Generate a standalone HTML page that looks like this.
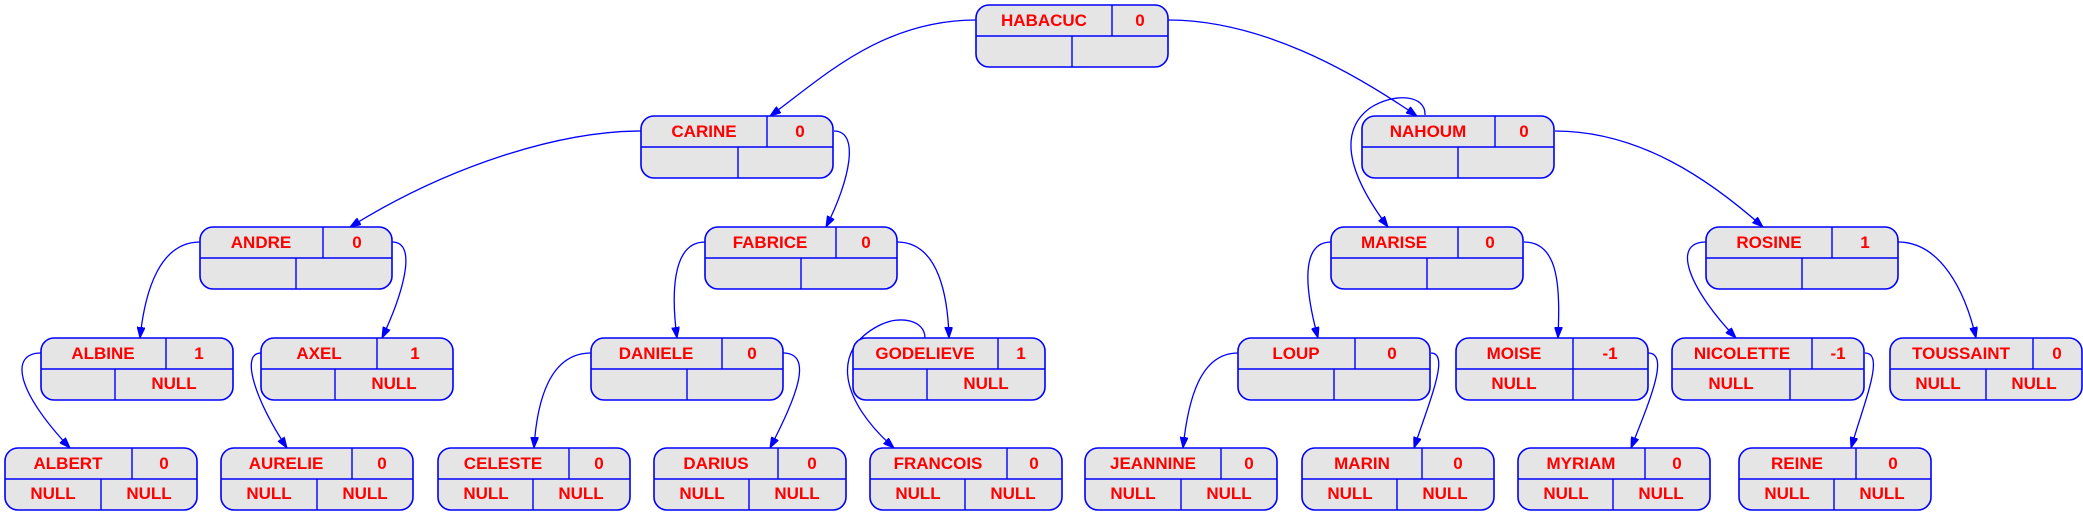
<!DOCTYPE html>
<html><head><meta charset="utf-8"><style>
html,body{margin:0;padding:0;background:#fff;}
svg{display:block;}
text{font-family:"Liberation Sans",Arial,sans-serif;font-weight:bold;font-size:17px;fill:#ff0000;text-anchor:middle;}
.n rect{fill:#e5e5e5;stroke:#0000ff;stroke-width:1.6;}
.n line{stroke:#0000ff;stroke-width:1.4;}
.e path{fill:none;stroke:#0000ff;stroke-width:1.3;}
</style></head><body>
<svg width="2083" height="516" viewBox="0 0 2083 516" xmlns="http://www.w3.org/2000/svg">
<defs><marker id="a" markerUnits="userSpaceOnUse" markerWidth="12" markerHeight="8" refX="11" refY="4" orient="auto"><path d="M0,0 L11,4 L0,8 z" fill="#0000ff" stroke="#0000ff"/></marker></defs>
<g class="e">
<path marker-end="url(#a)" d="M976,20 C880,20 820,80 770,116"/>
<path marker-end="url(#a)" d="M1168,20 C1260,20 1350,70 1417,116"/>
<path marker-end="url(#a)" d="M1425,115 C1426,95 1395,92 1370,108 C1340,130 1345,170 1388,227"/>
<path marker-end="url(#a)" d="M641,131 C560,131 450,165 350,227"/>
<path marker-end="url(#a)" d="M834,131 C860,131 850,180 826,227"/>
<path marker-end="url(#a)" d="M200,242 C160,242 145,290 140,338"/>
<path marker-end="url(#a)" d="M392,242 C420,242 400,300 382,338"/>
<path marker-end="url(#a)" d="M705,242 C670,242 672,300 677,338"/>
<path marker-end="url(#a)" d="M897,242 C940,242 948,300 949,338"/>
<path marker-end="url(#a)" d="M925,338 C925,320 900,315 880,325 C830,350 840,400 894,448"/>
<path marker-end="url(#a)" d="M41,353 C10,353 15,390 70,448"/>
<path marker-end="url(#a)" d="M261,353 C240,353 255,400 287,448"/>
<path marker-end="url(#a)" d="M591,353 C550,353 537,400 534,448"/>
<path marker-end="url(#a)" d="M783,353 C815,353 795,400 770,448"/>
<path marker-end="url(#a)" d="M1555,131 C1640,131 1710,180 1763,227"/>
<path marker-end="url(#a)" d="M1331,242 C1300,242 1305,290 1318,338"/>
<path marker-end="url(#a)" d="M1524,242 C1560,242 1560,290 1558,338"/>
<path marker-end="url(#a)" d="M1706,242 C1670,242 1690,290 1736,338"/>
<path marker-end="url(#a)" d="M1898,242 C1940,242 1965,290 1976,338"/>
<path marker-end="url(#a)" d="M1238,353 C1200,353 1188,400 1183,448"/>
<path marker-end="url(#a)" d="M1431,353 C1450,353 1430,400 1414,448"/>
<path marker-end="url(#a)" d="M1648,353 C1670,353 1650,400 1631,448"/>
<path marker-end="url(#a)" d="M1865,353 C1885,353 1865,400 1851,448"/>
</g>
<g class="n">
<g transform="translate(976,5)"><rect width="192" height="62" rx="13"/><line x1="0" y1="31" x2="192" y2="31"/><line x1="136" y1="0" x2="136" y2="31"/><line x1="96" y1="31" x2="96" y2="62"/><text x="68" y="21">HABACUC</text><text x="164" y="21">0</text></g>
<g transform="translate(641,116)"><rect width="192" height="62" rx="13"/><line x1="0" y1="31" x2="192" y2="31"/><line x1="126" y1="0" x2="126" y2="31"/><line x1="97" y1="31" x2="97" y2="62"/><text x="63" y="21">CARINE</text><text x="159" y="21">0</text></g>
<g transform="translate(1362,116)"><rect width="192" height="62" rx="13"/><line x1="0" y1="31" x2="192" y2="31"/><line x1="133" y1="0" x2="133" y2="31"/><line x1="96" y1="31" x2="96" y2="62"/><text x="66" y="21">NAHOUM</text><text x="162" y="21">0</text></g>
<g transform="translate(200,227)"><rect width="192" height="62" rx="13"/><line x1="0" y1="31" x2="192" y2="31"/><line x1="123" y1="0" x2="123" y2="31"/><line x1="96" y1="31" x2="96" y2="62"/><text x="61" y="21">ANDRE</text><text x="157" y="21">0</text></g>
<g transform="translate(705,227)"><rect width="192" height="62" rx="13"/><line x1="0" y1="31" x2="192" y2="31"/><line x1="131" y1="0" x2="131" y2="31"/><line x1="96" y1="31" x2="96" y2="62"/><text x="65" y="21">FABRICE</text><text x="161" y="21">0</text></g>
<g transform="translate(1331,227)"><rect width="192" height="62" rx="13"/><line x1="0" y1="31" x2="192" y2="31"/><line x1="127" y1="0" x2="127" y2="31"/><line x1="96" y1="31" x2="96" y2="62"/><text x="63" y="21">MARISE</text><text x="159" y="21">0</text></g>
<g transform="translate(1706,227)"><rect width="192" height="62" rx="13"/><line x1="0" y1="31" x2="192" y2="31"/><line x1="126" y1="0" x2="126" y2="31"/><line x1="96" y1="31" x2="96" y2="62"/><text x="63" y="21">ROSINE</text><text x="159" y="21">1</text></g>
<g transform="translate(41,338)"><rect width="192" height="62" rx="13"/><line x1="0" y1="31" x2="192" y2="31"/><line x1="125" y1="0" x2="125" y2="31"/><line x1="74" y1="31" x2="74" y2="62"/><text x="62" y="21">ALBINE</text><text x="158" y="21">1</text><text x="133" y="51">NULL</text></g>
<g transform="translate(261,338)"><rect width="192" height="62" rx="13"/><line x1="0" y1="31" x2="192" y2="31"/><line x1="116" y1="0" x2="116" y2="31"/><line x1="74" y1="31" x2="74" y2="62"/><text x="58" y="21">AXEL</text><text x="154" y="21">1</text><text x="133" y="51">NULL</text></g>
<g transform="translate(591,338)"><rect width="192" height="62" rx="13"/><line x1="0" y1="31" x2="192" y2="31"/><line x1="131" y1="0" x2="131" y2="31"/><line x1="96" y1="31" x2="96" y2="62"/><text x="65" y="21">DANIELE</text><text x="161" y="21">0</text></g>
<g transform="translate(853,338)"><rect width="192" height="62" rx="13"/><line x1="0" y1="31" x2="192" y2="31"/><line x1="145" y1="0" x2="145" y2="31"/><line x1="74" y1="31" x2="74" y2="62"/><text x="72" y="21">GODELIEVE</text><text x="168" y="21">1</text><text x="133" y="51">NULL</text></g>
<g transform="translate(1238,338)"><rect width="192" height="62" rx="13"/><line x1="0" y1="31" x2="192" y2="31"/><line x1="117" y1="0" x2="117" y2="31"/><line x1="96" y1="31" x2="96" y2="62"/><text x="58" y="21">LOUP</text><text x="154" y="21">0</text></g>
<g transform="translate(1456,338)"><rect width="192" height="62" rx="13"/><line x1="0" y1="31" x2="192" y2="31"/><line x1="117" y1="0" x2="117" y2="31"/><line x1="117" y1="31" x2="117" y2="62"/><text x="58" y="21">MOISE</text><text x="154" y="21">-1</text><text x="58" y="51">NULL</text></g>
<g transform="translate(1672,338)"><rect width="192" height="62" rx="13"/><line x1="0" y1="31" x2="192" y2="31"/><line x1="140" y1="0" x2="140" y2="31"/><line x1="118" y1="31" x2="118" y2="62"/><text x="70" y="21">NICOLETTE</text><text x="166" y="21">-1</text><text x="59" y="51">NULL</text></g>
<g transform="translate(1890,338)"><rect width="192" height="62" rx="13"/><line x1="0" y1="31" x2="192" y2="31"/><line x1="143" y1="0" x2="143" y2="31"/><line x1="96" y1="31" x2="96" y2="62"/><text x="71" y="21">TOUSSAINT</text><text x="167" y="21">0</text><text x="48" y="51">NULL</text><text x="144" y="51">NULL</text></g>
<g transform="translate(5,448)"><rect width="192" height="62" rx="13"/><line x1="0" y1="31" x2="192" y2="31"/><line x1="127" y1="0" x2="127" y2="31"/><line x1="96" y1="31" x2="96" y2="62"/><text x="63" y="21">ALBERT</text><text x="159" y="21">0</text><text x="48" y="51">NULL</text><text x="144" y="51">NULL</text></g>
<g transform="translate(221,448)"><rect width="192" height="62" rx="13"/><line x1="0" y1="31" x2="192" y2="31"/><line x1="131" y1="0" x2="131" y2="31"/><line x1="96" y1="31" x2="96" y2="62"/><text x="65" y="21">AURELIE</text><text x="161" y="21">0</text><text x="48" y="51">NULL</text><text x="144" y="51">NULL</text></g>
<g transform="translate(438,448)"><rect width="192" height="62" rx="13"/><line x1="0" y1="31" x2="192" y2="31"/><line x1="131" y1="0" x2="131" y2="31"/><line x1="95" y1="31" x2="95" y2="62"/><text x="65" y="21">CELESTE</text><text x="161" y="21">0</text><text x="48" y="51">NULL</text><text x="143" y="51">NULL</text></g>
<g transform="translate(654,448)"><rect width="192" height="62" rx="13"/><line x1="0" y1="31" x2="192" y2="31"/><line x1="124" y1="0" x2="124" y2="31"/><line x1="95" y1="31" x2="95" y2="62"/><text x="62" y="21">DARIUS</text><text x="158" y="21">0</text><text x="48" y="51">NULL</text><text x="143" y="51">NULL</text></g>
<g transform="translate(870,448)"><rect width="192" height="62" rx="13"/><line x1="0" y1="31" x2="192" y2="31"/><line x1="137" y1="0" x2="137" y2="31"/><line x1="95" y1="31" x2="95" y2="62"/><text x="68" y="21">FRANCOIS</text><text x="164" y="21">0</text><text x="48" y="51">NULL</text><text x="143" y="51">NULL</text></g>
<g transform="translate(1085,448)"><rect width="192" height="62" rx="13"/><line x1="0" y1="31" x2="192" y2="31"/><line x1="136" y1="0" x2="136" y2="31"/><line x1="96" y1="31" x2="96" y2="62"/><text x="68" y="21">JEANNINE</text><text x="164" y="21">0</text><text x="48" y="51">NULL</text><text x="144" y="51">NULL</text></g>
<g transform="translate(1302,448)"><rect width="192" height="62" rx="13"/><line x1="0" y1="31" x2="192" y2="31"/><line x1="120" y1="0" x2="120" y2="31"/><line x1="95" y1="31" x2="95" y2="62"/><text x="60" y="21">MARIN</text><text x="156" y="21">0</text><text x="48" y="51">NULL</text><text x="143" y="51">NULL</text></g>
<g transform="translate(1518,448)"><rect width="192" height="62" rx="13"/><line x1="0" y1="31" x2="192" y2="31"/><line x1="127" y1="0" x2="127" y2="31"/><line x1="95" y1="31" x2="95" y2="62"/><text x="63" y="21">MYRIAM</text><text x="159" y="21">0</text><text x="48" y="51">NULL</text><text x="143" y="51">NULL</text></g>
<g transform="translate(1739,448)"><rect width="192" height="62" rx="13"/><line x1="0" y1="31" x2="192" y2="31"/><line x1="117" y1="0" x2="117" y2="31"/><line x1="95" y1="31" x2="95" y2="62"/><text x="58" y="21">REINE</text><text x="154" y="21">0</text><text x="48" y="51">NULL</text><text x="143" y="51">NULL</text></g>
</g>
</svg>
</body></html>
